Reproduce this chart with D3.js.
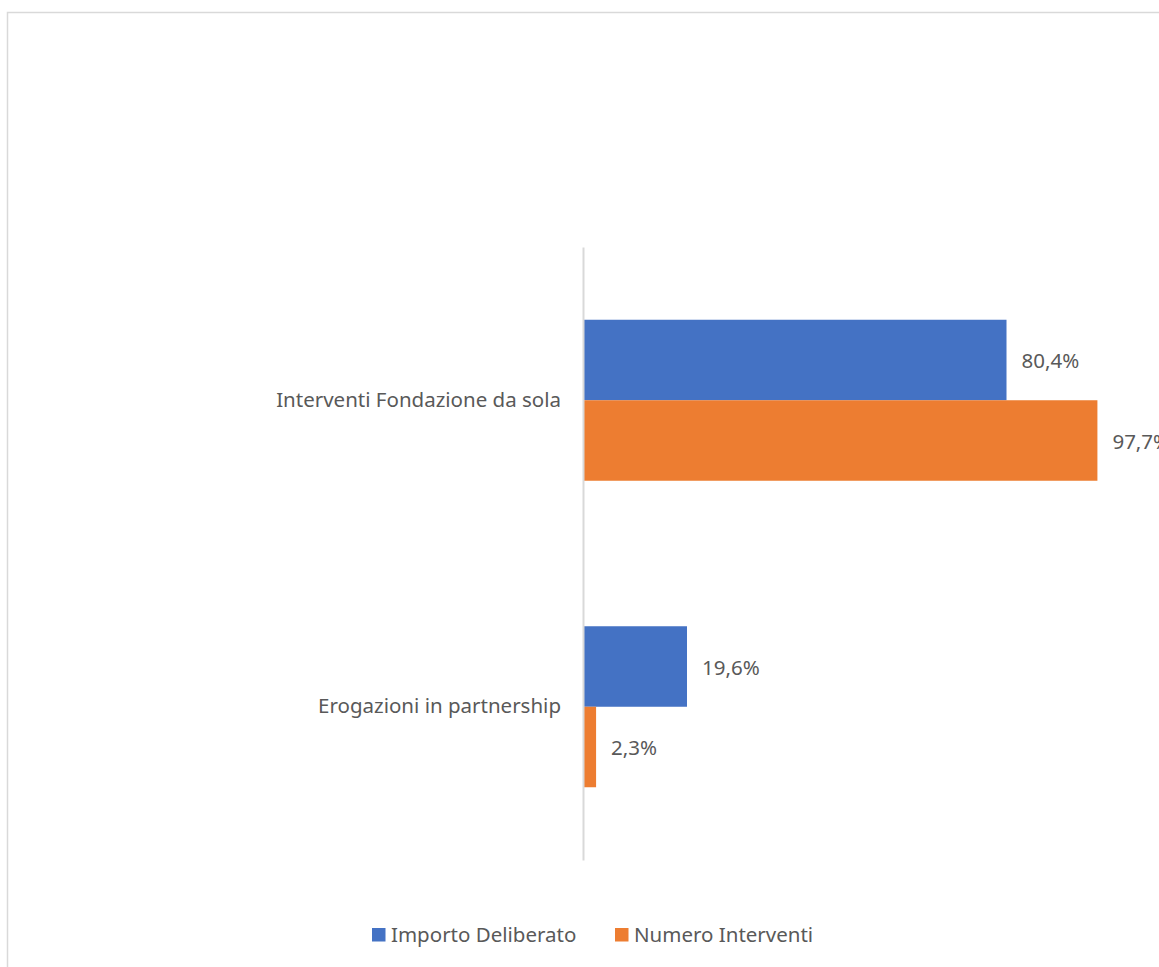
<!DOCTYPE html>
<html><head><meta charset="utf-8">
<script src="https://cdn.jsdelivr.net/npm/d3@7"></script>
<style>body{margin:0;background:#fff}svg{display:block}text{font-family:"Noto Sans",sans-serif;fill:#595959}</style>
</head><body><svg id="c" width="1159" height="967"></svg>
<script>
const categories = ["Interventi Fondazione da sola", "Erogazioni in partnership"];
const seriesNames = ["Importo Deliberato", "Numero Interventi"];
const importoDeliberato = [80.4, 19.6];
const numeroInterventi = [97.7, 2.3];
const colors = ["#4472C4", "#ED7D31"];
const fmt = v => d3.format(".1f")(v).replace(".", ",") + "%";
const FS = "20.5px";

const svg = d3.select("#c");
svg.append("rect").attr("x", 7.5).attr("y", 12.5).attr("width", 1300).attr("height", 1100)
  .attr("fill", "#fff").attr("stroke", "#d9d9d9").attr("stroke-width", 1.5);

const x0 = 584;
const x = d3.scaleLinear().domain([0, 100]).range([x0, x0 + 525.5]);
const y = d3.scaleBand().domain(categories).range([247, 860]);
const inner = d3.scaleBand().domain(seriesNames).range([0, 161]);
const off = (y.bandwidth() - 161) / 2;

const data = categories.map((c, i) => ({c, vals: [importoDeliberato[i], numeroInterventi[i]]}));

const g = svg.append("g");
data.forEach(d => {
  d.vals.forEach((v, j) => {
    const yy = y(d.c) + off + inner(seriesNames[j]);
    g.append("rect").attr("x", x(0)).attr("y", yy).attr("width", x(v) - x(0))
      .attr("height", inner.bandwidth()).attr("fill", colors[j]);
    g.append("text").attr("x", x(v) + 15).attr("y", yy + inner.bandwidth() / 2 + 1)
      .attr("dy", "0.35em").style("font-size", FS).text(fmt(v));
  });
});

const yAxis = svg.append("g").attr("transform", `translate(${x0 - 1},0)`)
  .call(d3.axisLeft(y).tickSize(0).tickPadding(22));
yAxis.select(".domain").attr("stroke", "#d9d9d9").attr("stroke-width", 2);
yAxis.selectAll("text").style("font-size", FS).style("font-family", '"Noto Sans",sans-serif').attr("fill", "#595959");

const legendX = [372, 615];
const lg = svg.append("g");
seriesNames.forEach((s, i) => {
  lg.append("rect").attr("x", legendX[i]).attr("y", 928).attr("width", 13.5).attr("height", 13.5).attr("fill", colors[i]);
  lg.append("text").attr("x", legendX[i] + 19).attr("y", 935).attr("dy", "0.35em").style("font-size", FS).text(s);
});
</script></body></html>
